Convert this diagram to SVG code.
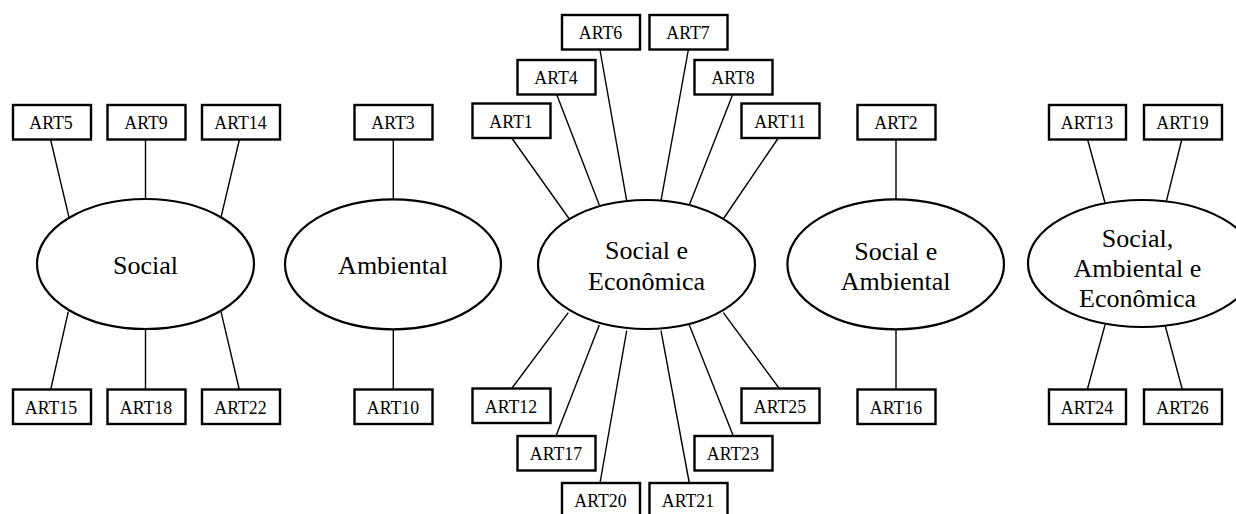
<svg xmlns="http://www.w3.org/2000/svg" width="1236" height="514" viewBox="0 0 1236 514" font-family="'Liberation Serif', serif">
<style>
.box{fill:#fff;stroke:#000;stroke-width:2.4}
.ell{fill:#fff;stroke:#000;stroke-width:2.2}
.bt{font-family:'Liberation Serif',serif;font-size:17.8px;fill:#000;text-anchor:middle}
.et{font-family:'Liberation Serif',serif;font-size:26px;fill:#000;text-anchor:middle}
.ln{stroke:#000;stroke-width:1.4;fill:none}
</style>
<rect width="1236" height="514" fill="#fff"/>
<g id="connectors" class="ln">
<line x1="50.7" y1="140" x2="69" y2="217.3"/>
<line x1="145.5" y1="140" x2="145.5" y2="199"/>
<line x1="239.3" y1="140" x2="221" y2="217.3"/>
<line x1="68.3" y1="311.7" x2="50.7" y2="389.5"/>
<line x1="145.5" y1="329" x2="145.5" y2="389.5"/>
<line x1="221" y1="311.7" x2="239.3" y2="389.5"/>
<line x1="393.3" y1="140" x2="393.3" y2="199.3"/>
<line x1="393.3" y1="329.3" x2="393.3" y2="389.5"/>
<line x1="511.7" y1="138" x2="569.3" y2="219"/>
<line x1="556.7" y1="94.5" x2="599.3" y2="205"/>
<line x1="600" y1="50" x2="626.7" y2="200.7"/>
<line x1="688.3" y1="50" x2="661" y2="200.7"/>
<line x1="732.7" y1="94.5" x2="689.3" y2="205"/>
<line x1="778.3" y1="138" x2="723.3" y2="219"/>
<line x1="511.7" y1="388.5" x2="568.3" y2="312.7"/>
<line x1="556" y1="436" x2="599.3" y2="325"/>
<line x1="600" y1="483" x2="626.7" y2="330.7"/>
<line x1="689.3" y1="483" x2="661" y2="330.7"/>
<line x1="733.3" y1="436" x2="689.3" y2="325"/>
<line x1="779.3" y1="388.5" x2="723.3" y2="312.7"/>
<line x1="896" y1="140" x2="896" y2="199.3"/>
<line x1="896" y1="329.3" x2="896" y2="389.5"/>
<line x1="1087.7" y1="140" x2="1105" y2="202.7"/>
<line x1="1181.7" y1="140" x2="1166" y2="202.7"/>
<line x1="1105" y1="325" x2="1087.3" y2="389.5"/>
<line x1="1165" y1="325" x2="1182.3" y2="389.5"/>
</g>
<g id="social"><ellipse class="ell" cx="145.5" cy="264" rx="108.5" ry="65"/><text class="et" x="145.5" y="273.5">Social</text></g>
<g id="ambiental"><ellipse class="ell" cx="393" cy="264.3" rx="108" ry="65"/><text class="et" x="393" y="273.8">Ambiental</text></g>
<g id="social-economica"><ellipse class="ell" cx="646.5" cy="264.5" rx="108.5" ry="64.5"/><text class="et" x="646.5" y="259.3">Social e</text><text class="et" x="646.5" y="289.5">Econômica</text></g>
<g id="social-ambiental"><ellipse class="ell" cx="895.7" cy="264.3" rx="108.3" ry="65"/><text class="et" x="895.7" y="259.5">Social e</text><text class="et" x="895.7" y="289.5">Ambiental</text></g>
<g id="social-ambiental-economica"><ellipse class="ell" cx="1142" cy="263.5" rx="114" ry="63.5"/><text class="et" x="1137.5" y="246.7">Social,</text><text class="et" x="1137.5" y="276.7">Ambiental e</text><text class="et" x="1137.5" y="306.7">Econômica</text></g>
<g id="ART5"><rect class="box" x="13" y="105" width="78" height="34.5"/><text class="bt" x="51" y="129">ART5</text></g>
<g id="ART9"><rect class="box" x="107.5" y="105" width="78" height="34.5"/><text class="bt" x="146" y="129">ART9</text></g>
<g id="ART14"><rect class="box" x="202" y="105" width="78" height="34.5"/><text class="bt" x="240.5" y="129">ART14</text></g>
<g id="ART15"><rect class="box" x="13" y="389.5" width="78" height="34.5"/><text class="bt" x="51" y="413.5">ART15</text></g>
<g id="ART18"><rect class="box" x="107.5" y="389.5" width="78" height="34.5"/><text class="bt" x="146" y="413.5">ART18</text></g>
<g id="ART22"><rect class="box" x="202" y="389.5" width="78" height="34.5"/><text class="bt" x="240.5" y="413.5">ART22</text></g>
<g id="ART3"><rect class="box" x="354.5" y="105" width="78" height="34.5"/><text class="bt" x="393" y="129">ART3</text></g>
<g id="ART10"><rect class="box" x="354.5" y="389.5" width="78" height="34.5"/><text class="bt" x="393" y="413.5">ART10</text></g>
<g id="ART6"><rect class="box" x="562" y="15" width="78" height="34.5"/><text class="bt" x="600.5" y="39">ART6</text></g>
<g id="ART7"><rect class="box" x="649.5" y="15" width="78" height="34.5"/><text class="bt" x="688" y="39">ART7</text></g>
<g id="ART4"><rect class="box" x="517.5" y="60" width="78" height="34.5"/><text class="bt" x="556" y="84">ART4</text></g>
<g id="ART8"><rect class="box" x="694.5" y="60" width="78" height="34.5"/><text class="bt" x="733" y="84">ART8</text></g>
<g id="ART1"><rect class="box" x="472.5" y="103.5" width="78" height="34.5"/><text class="bt" x="511" y="127.5">ART1</text></g>
<g id="ART11"><rect class="box" x="741.5" y="103.5" width="78" height="34.5"/><text class="bt" x="780" y="127.5">ART11</text></g>
<g id="ART12"><rect class="box" x="472.5" y="388.5" width="78" height="34.5"/><text class="bt" x="511" y="412.5">ART12</text></g>
<g id="ART25"><rect class="box" x="741.5" y="388.5" width="78" height="34.5"/><text class="bt" x="780" y="412.5">ART25</text></g>
<g id="ART17"><rect class="box" x="517.5" y="436" width="78" height="34.5"/><text class="bt" x="556" y="460">ART17</text></g>
<g id="ART23"><rect class="box" x="694.5" y="436" width="78" height="34.5"/><text class="bt" x="733" y="460">ART23</text></g>
<g id="ART20"><rect class="box" x="562" y="483" width="78" height="34.5"/><text class="bt" x="600.5" y="507">ART20</text></g>
<g id="ART21"><rect class="box" x="649.5" y="483" width="78" height="34.5"/><text class="bt" x="688" y="507">ART21</text></g>
<g id="ART2"><rect class="box" x="857.5" y="105" width="78" height="34.5"/><text class="bt" x="896" y="129">ART2</text></g>
<g id="ART16"><rect class="box" x="857.5" y="389.5" width="78" height="34.5"/><text class="bt" x="896" y="413.5">ART16</text></g>
<g id="ART13"><rect class="box" x="1049" y="105" width="77" height="34.5"/><text class="bt" x="1087" y="129">ART13</text></g>
<g id="ART19"><rect class="box" x="1144" y="105" width="78" height="34.5"/><text class="bt" x="1182.5" y="129">ART19</text></g>
<g id="ART24"><rect class="box" x="1049" y="389.5" width="77" height="34.5"/><text class="bt" x="1087" y="413.5">ART24</text></g>
<g id="ART26"><rect class="box" x="1144" y="389.5" width="78" height="34.5"/><text class="bt" x="1182.5" y="413.5">ART26</text></g>
</svg>
